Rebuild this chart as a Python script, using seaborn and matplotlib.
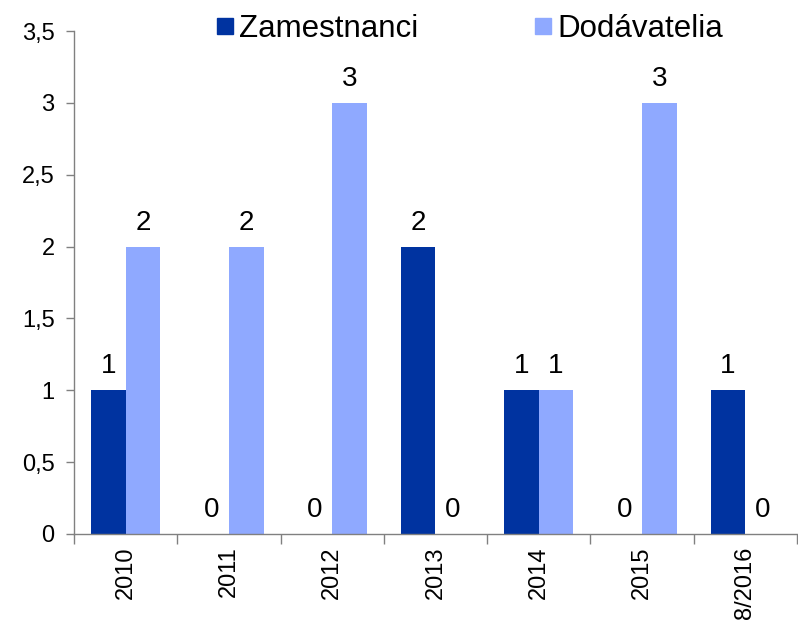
import matplotlib
matplotlib.use("Agg")
import matplotlib.pyplot as plt
import seaborn as sns
import pandas as pd
from matplotlib.lines import Line2D
from matplotlib.ticker import FuncFormatter, FixedLocator

categories = ["2010", "2011", "2012", "2013", "2014", "2015", "8/2016"]
zamestnanci = [1, 0, 0, 2, 1, 0, 1]
dodavatelia = [2, 2, 3, 0, 1, 3, 0]
series_names = ["Zamestnanci", "Dodávatelia"]
colors = ["#0033A0", "#8FA9FF"]

df = pd.DataFrame({
    "rok": categories * 2,
    "hodnota": zamestnanci + dodavatelia,
    "seria": [series_names[0]] * len(categories) + [series_names[1]] * len(categories),
})

sns.set_style("white")
plt.rcParams["font.family"] = ["Liberation Sans", "DejaVu Sans"]
plt.rcParams["text.color"] = "black"
plt.rcParams["xtick.color"] = "black"
plt.rcParams["ytick.color"] = "black"

fig = plt.figure(figsize=(7.98, 6.23), dpi=100)
ax = fig.add_axes([0.0927, 0.143, 0.906, 0.807])

sns.barplot(data=df, x="rok", y="hodnota", hue="seria", order=categories,
            hue_order=series_names, palette=colors, width=0.67, saturation=1,
            linewidth=0, ax=ax, legend=False)

for cont in ax.containers:
    labels = [f"{int(round(b.get_height()))}" for b in cont]
    ax.bar_label(cont, labels=labels, padding=8, fontsize=20, color="black")

ax.set_ylim(0, 3.5)
ax.set_xlim(-0.5, len(categories) - 0.5)
ax.set_yticks([0, 0.5, 1, 1.5, 2, 2.5, 3, 3.5])
ax.yaxis.set_major_formatter(FuncFormatter(lambda v, p: (f"{v:g}").replace(".", ",")))
ax.set_xlabel("")
ax.set_ylabel("")
ax.tick_params(axis="y", labelsize=17, length=6, width=1, color="#808080",
               labelcolor="black", direction="out", left=True, pad=8)
ax.tick_params(axis="x", which="major", labelsize=17, length=0, pad=9,
               labelcolor="black", labelrotation=90)
ax.xaxis.set_minor_locator(FixedLocator([i - 0.5 for i in range(len(categories) + 1)]))
ax.tick_params(axis="x", which="minor", length=7, width=1, color="#808080",
               direction="out", bottom=True)

for s in ["top", "right"]:
    ax.spines[s].set_visible(False)
for s in ["left", "bottom"]:
    ax.spines[s].set_color("#808080")
    ax.spines[s].set_linewidth(1)

handles = [Line2D([0], [0], marker="s", linestyle="", markersize=11.5,
                  markerfacecolor=c, markeredgecolor=c) for c in colors]
fig.legend(handles, series_names, loc="center", bbox_to_anchor=(0.588, 0.953),
           ncol=2, frameon=False, fontsize=22.5, handlelength=0.6, handletextpad=0.15,
           columnspacing=3.7)

fig.savefig("out.png", dpi=100)
